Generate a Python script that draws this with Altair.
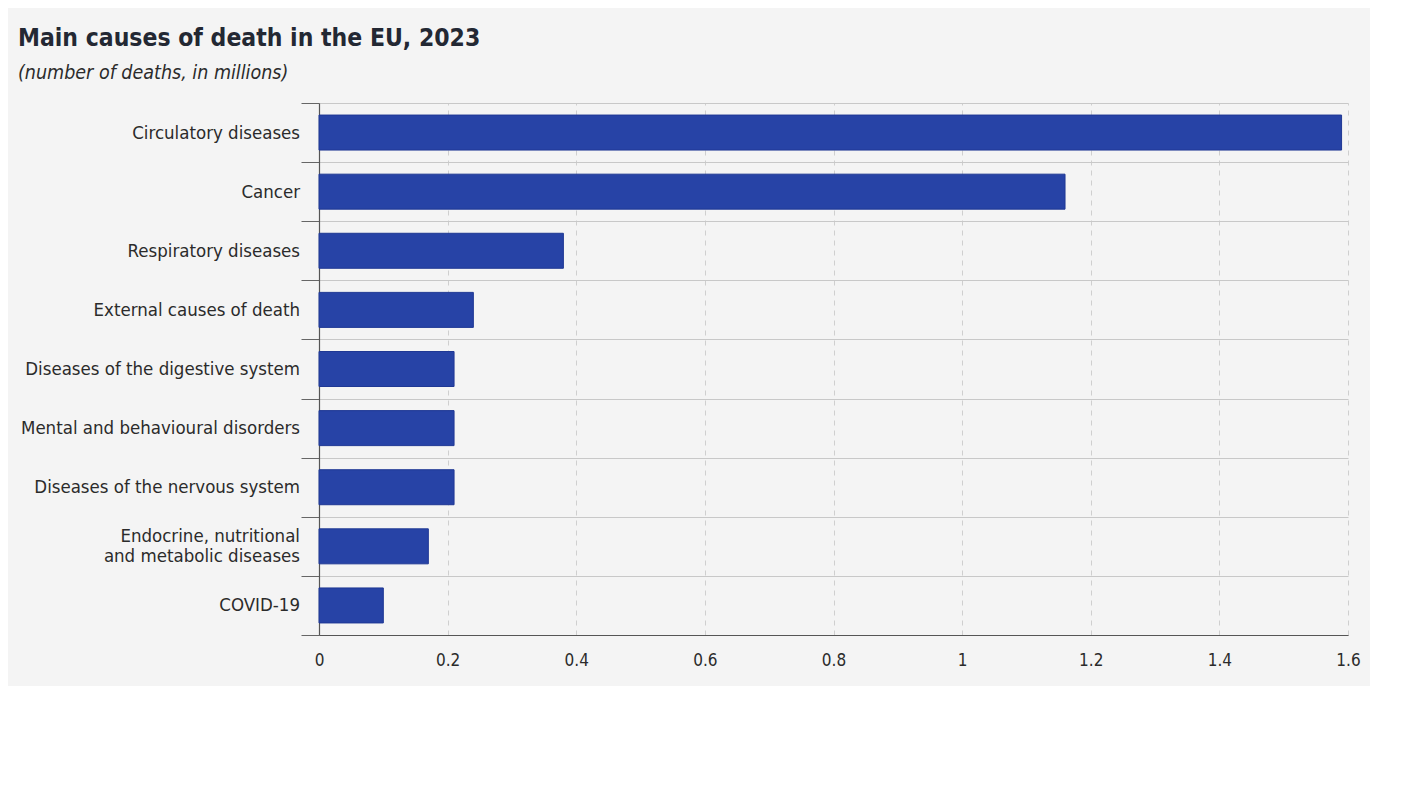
import altair as alt
import pandas as pd

causes = [
    "Circulatory diseases",
    "Cancer",
    "Respiratory diseases",
    "External causes of death",
    "Diseases of the digestive system",
    "Mental and behavioural disorders",
    "Diseases of the nervous system",
    "Endocrine, nutritional|and metabolic diseases",
    "COVID-19",
]
deaths = [1.59, 1.16, 0.38, 0.24, 0.21, 0.21, 0.21, 0.17, 0.10]
x_ticks = [0, 0.2, 0.4, 0.6, 0.8, 1.0, 1.2, 1.4, 1.6]

df = pd.DataFrame({"cause": causes, "deaths": deaths})

FONT = "DejaVu Sans Condensed"
BG = "#f4f4f4"

y_enc = alt.Y(
    "cause:N",
    sort=causes,
    scale=alt.Scale(paddingInner=0, paddingOuter=0),
    axis=alt.Axis(
        title=None,
        tickBand="extent",
        ticks=True,
        tickSize=18,
        tickColor="#666666",
        tickWidth=1,
        labels=False,
        domain=True,
        domainColor="#555555",
        domainWidth=1.2,
        grid=True,
        gridColor="#c8c8c8",
        gridWidth=1,
    ),
)

bars = (
    alt.Chart(df)
    .mark_bar(color="#2743a6", stroke="#1f3894", strokeWidth=1, size=35)
    .encode(
        x=alt.X(
            "deaths:Q",
            scale=alt.Scale(domain=[0, 1.6], nice=False),
            axis=alt.Axis(
                title=None,
                values=x_ticks,
                format="~g",
                ticks=False,
                labelFlush=False,
                labelPadding=17,
                labelFontSize=17,
                labelFont=FONT,
                labelColor="#2b2b2b",
                domain=True,
                domainColor="#555555",
                domainWidth=1.2,
                grid=True,
                gridColor="#cfcfcf",
                gridDash=[5, 5],
                gridWidth=1,
            ),
        ),
        y=y_enc,
    )
)

label_style = dict(
    align="right",
    baseline="middle",
    font=FONT,
    fontSize=18.5,
    color="#2b2b2b",
    lineBreak="|",
    lineHeight=20,
)

single = (
    alt.Chart(df)
    .transform_filter("indexof(datum.cause, '|') < 0")
    .mark_text(**label_style)
    .encode(x=alt.value(-19), y=alt.Y("cause:N", sort=causes), text="cause:N")
)
multi = (
    alt.Chart(df)
    .transform_filter("indexof(datum.cause, '|') >= 0")
    .mark_text(dy=-10, **label_style)
    .encode(x=alt.value(-19), y=alt.Y("cause:N", sort=causes), text="cause:N")
)

chart = (
    alt.layer(bars, single, multi)
    .properties(
        width=1029,
        height=532,
        background=BG,
        padding={"left": 311, "top": 95, "right": 22, "bottom": 51},
        autosize=alt.AutoSizeParams(type="none"),
        title=alt.Title(
            "Main causes of death in the EU, 2023",
            subtitle="(number of deaths, in millions)",
            anchor="start",
            frame="group",
            dx=-301,
            offset=19,
            font=FONT,
            fontSize=24.5,
            fontWeight="bold",
            color="#232833",
            subtitleFont=FONT,
            subtitleFontSize=19.5,
            subtitleFontStyle="italic",
            subtitleColor="#2b2b2b",
            subtitlePadding=13,
        ),
    )
    .configure_view(stroke=None)
)

chart.save("out.html", embed_options={"renderer": "svg", "actions": False})
